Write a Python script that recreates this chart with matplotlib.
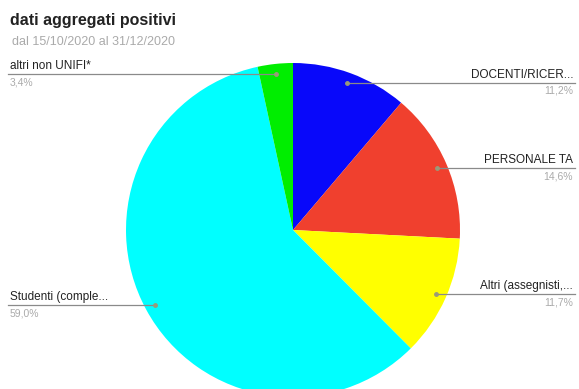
import numpy as np
import matplotlib.pyplot as plt

plt.rcParams['font.family'] = ['Liberation Sans', 'DejaVu Sans']

labels = ['DOCENTI/RICER...', 'PERSONALE TA', 'Altri (assegnisti,...',
          'Studenti (comple...', 'altri non UNIFI*']
percent = [11.2, 14.6, 11.7, 59.0, 3.4]
pct_text = ['11,2%', '14,6%', '11,7%', '59,0%', '3,4%']
colors = ['#0808fa', '#f0402e', '#ffff00', '#00ffff', '#00ee00']

W, H = 579, 389
fig = plt.figure(figsize=(W / 100, H / 100), dpi=100)

# pie centre and radius in pixels
cx, cy, R = 293, 230, 167
ax = fig.add_axes([(cx - R) / W, (H - cy - R) / H, 2 * R / W, 2 * R / H])
wedges, _ = ax.pie(percent, colors=colors, startangle=90, counterclock=False,
                   wedgeprops=dict(linewidth=0))
ax.set_xlim(-1, 1)
ax.set_ylim(-1, 1)
ax.set_aspect('equal')
ax.axis('off')

x_right = (573 - cx) / R
x_left = (10 - cx) / R
for w, lab, pt in zip(wedges, labels, pct_text):
    mid = np.deg2rad((w.theta1 + w.theta2) / 2)
    px, py = 0.94 * np.cos(mid), 0.94 * np.sin(mid)
    if px > 0:
        xe, ha = x_right, 'right'
    else:
        xe, ha = x_left, 'left'
    ax.plot([px, xe + (0.01 if px > 0 else -0.01)], [py, py], color='#8a8a8a',
            lw=0.9, clip_on=False)
    ax.plot(px, py, 'o', ms=2.5, color='#9a9a7a', clip_on=False)
    ax.text(xe, py + 0.012, lab, ha=ha, va='bottom', fontsize=8.5,
            color='#222222', clip_on=False)
    ax.text(xe, py - 0.02, pt, ha=ha, va='top', fontsize=7.5,
            color='#aaaaaa', clip_on=False)

fig.text(10 / W, 1 - 20 / H, 'dati aggregati positivi', fontsize=11.5,
         fontweight='bold', color='#222222', va='center')
fig.text(12 / W, 1 - 42 / H, 'dal 15/10/2020 al 31/12/2020', fontsize=9,
         color='#aaaaaa', va='center')

fig.savefig('out.png', dpi=100)
